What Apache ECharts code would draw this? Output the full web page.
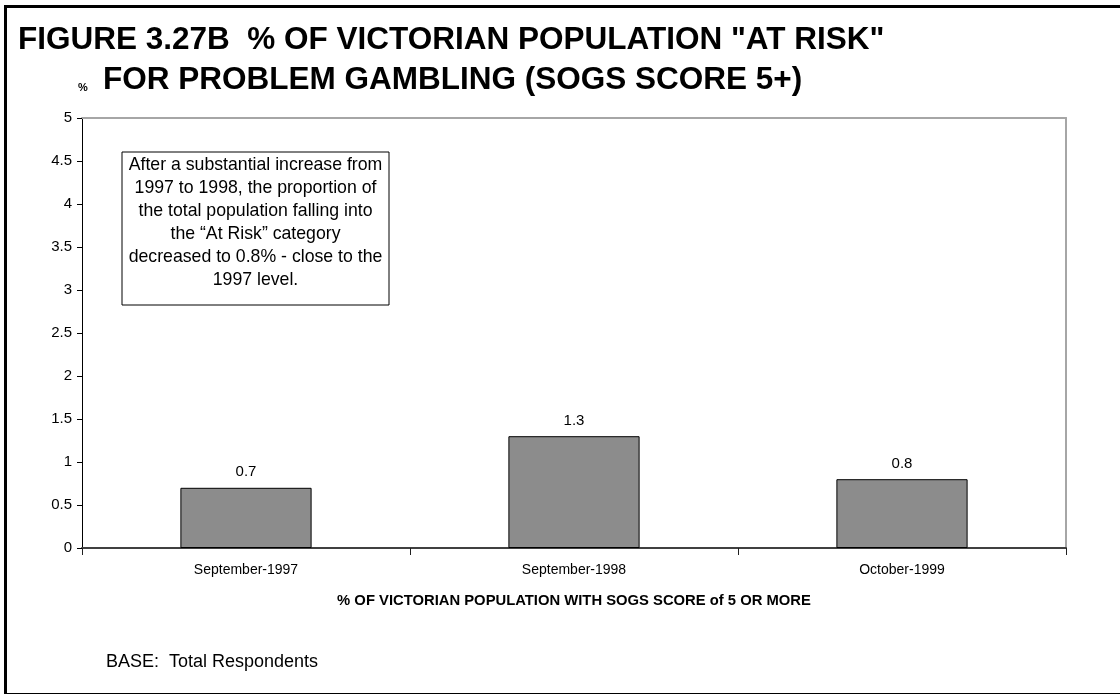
<!DOCTYPE html>
<html>
<head>
<meta charset="utf-8">
<script src="https://cdn.jsdelivr.net/npm/echarts@6/dist/echarts.min.js"></script>
<style>
html,body{margin:0;padding:0;background:#fff;}
#chart{width:1120px;height:694px;}
</style>
</head>
<body>
<div id="chart"></div>
<script>
const categories = ['September-1997', 'September-1998', 'October-1999'];
const values = [0.7, 1.3, 0.8];
const yTicks = [0, 0.5, 1, 1.5, 2, 2.5, 3, 3.5, 4, 4.5, 5];
const titleLine1 = 'FIGURE 3.27B  % OF VICTORIAN POPULATION "AT RISK"';
const titleLine2 = 'FOR PROBLEM GAMBLING (SOGS SCORE 5+)';
const axisTitle = '% OF VICTORIAN POPULATION WITH SOGS SCORE of 5 OR MORE';
const noteText = 'After a substantial increase from\n1997 to 1998, the proportion of\nthe total population falling into\nthe \u201CAt Risk\u201D category\ndecreased to 0.8% - close to the\n1997 level.';
const baseText = 'BASE:  Total Respondents';

const FONT = '"Liberation Sans", Arial, sans-serif';
const chart = echarts.init(document.getElementById('chart'), null, {renderer: 'canvas'});

const option = {
  backgroundColor: '#ffffff',
  animation: false,
  grid: {left: 82, right: 54, top: 118, bottom: 146, containLabel: false},
  xAxis: [{
    type: 'category',
    data: categories,
    boundaryGap: true,
    position: 'bottom',
    axisLine: {lineStyle: {color: '#404040', width: 2}},
    axisTick: {show: true, interval: 0, length: 7, lineStyle: {color: '#202020', width: 1}},
    axisLabel: {color: '#000', fontFamily: FONT, fontSize: 14, margin: 15},
    name: axisTitle,
    nameLocation: 'middle',
    nameGap: 45,
    nameTextStyle: {color: '#000', fontFamily: FONT, fontSize: 14.8, fontWeight: 'bold'}
  }, {
    type: 'category',
    data: categories,
    position: 'top',
    axisLine: {show: true, onZero: false, lineStyle: {color: '#a6a6a6', width: 2}},
    axisTick: {show: false},
    axisLabel: {show: false}
  }],
  yAxis: [{
    type: 'value',
    min: 0,
    max: 5,
    interval: 0.5,
    position: 'left',
    axisLine: {show: true, lineStyle: {color: '#000', width: 1}},
    axisTick: {show: true, length: 5, lineStyle: {color: '#000'}},
    splitLine: {show: false},
    axisLabel: {color: '#000', fontFamily: FONT, fontSize: 15, margin: 10}
  }, {
    type: 'value',
    min: 0,
    max: 5,
    interval: 0.5,
    position: 'right',
    axisLine: {show: true, onZero: false, lineStyle: {color: '#a6a6a6', width: 2}},
    axisTick: {show: false},
    axisLabel: {show: false},
    splitLine: {show: false}
  }],
  series: [{
    type: 'bar',
    data: values,
    xAxisIndex: 0,
    yAxisIndex: 0,
    barWidth: '40%',
    itemStyle: {color: '#8c8c8c', borderColor: '#000', borderWidth: 1},
    label: {show: true, position: 'top', distance: 8, color: '#000', fontFamily: FONT, fontSize: 15}
  }],
  graphic: [
    {type: 'rect', left: 3, top: 4, z: 100, silent: true,
     shape: {x: 0, y: 0, width: 1140, height: 688},
     style: {fill: 'none', stroke: '#000', lineWidth: 3}},
    {type: 'text', x: 18, y: 40, style: {text: titleLine1, font: 'bold 31.5px ' + FONT, fill: '#000', verticalAlign: 'middle'}},
    {type: 'text', x: 103, y: 80, style: {text: titleLine2, font: 'bold 31.5px ' + FONT, fill: '#000', verticalAlign: 'middle'}},
    {type: 'text', x: 78, y: 88, style: {text: '%', font: 'bold 11px ' + FONT, fill: '#000', verticalAlign: 'middle'}},
    {type: 'group', x: 122, y: 152, children: [
      {type: 'rect', shape: {x: 0, y: 0, width: 267, height: 153}, style: {fill: '#fff', stroke: '#000', lineWidth: 1}},
      {type: 'text', x: 133.5, y: 2, style: {text: noteText, font: '17.7px ' + FONT, fill: '#000', align: 'center', verticalAlign: 'top', lineHeight: 23}}
    ]},
    {type: 'text', x: 106, y: 662, style: {text: baseText, font: '18px ' + FONT, fill: '#000', verticalAlign: 'middle'}}
  ]
};
chart.setOption(option);
</script>
</body>
</html>
